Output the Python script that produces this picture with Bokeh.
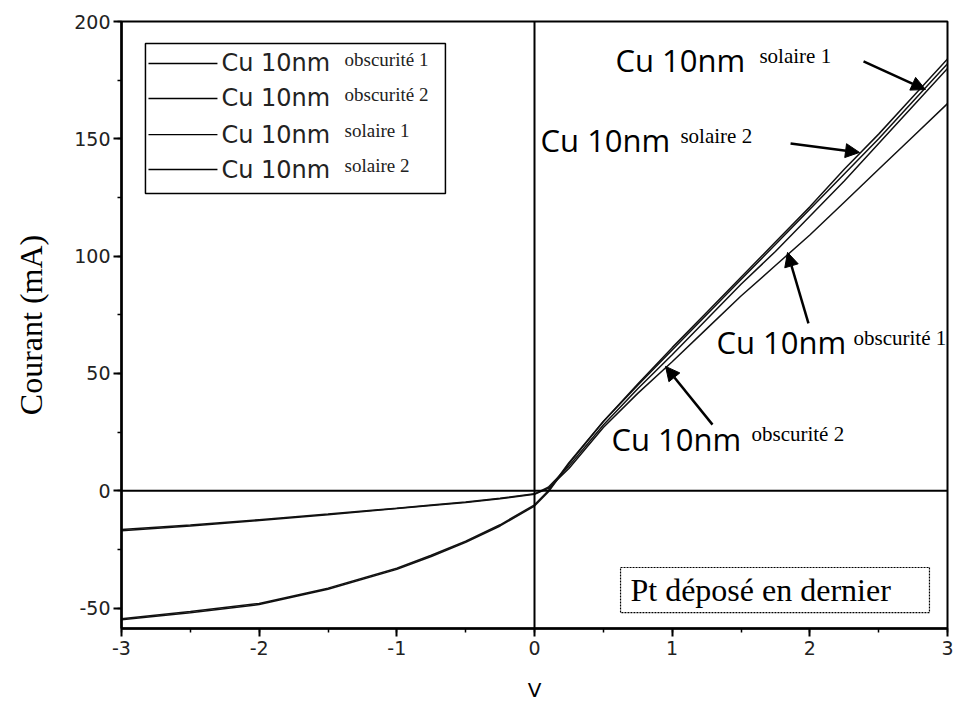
from bokeh.plotting import figure
from bokeh.models import (Arrow, NormalHead, Span, Label, SingleIntervalTicker,
                          Range1d, PrintfTickFormatter)
from bokeh.embed import file_html
from bokeh.resources import INLINE

# Tension (V) and current (mA) for the four I-V sweeps
V = [-3, -2.5, -2, -1.5, -1, -0.75, -0.5, -0.25, 0, 0.1, 0.25, 0.5, 0.75,
     1, 1.25, 1.5, 1.75, 2, 2.25, 2.5, 2.75, 3]
I_obscurite_1 = [-17, -15, -12.7, -10.2, -7.6, -6.3, -5, -3.4, -1.5, 1, 9.5,
                 27, 41.5, 55, 69, 83, 96, 109, 123, 137, 151, 165]
I_obscurite_2 = [-16.5, -14.6, -12.3, -9.9, -7.4, -6.1, -4.8, -3.2, -1.3, 1.5,
                 10.5, 28, 43.5, 58, 73, 88, 102, 117, 132, 148, 164, 180]
I_solaire_1 = [-55, -52, -48.5, -42, -33.5, -28, -22, -15, -6.5, -0.5, 11.5,
               29.5, 45.5, 61, 76, 91, 106, 121, 137, 152, 168, 184]
I_solaire_2 = [-54.5, -51.5, -48, -41.5, -33, -27.5, -21.5, -14.5, -6, 0, 12,
               29.5, 45, 60, 75, 90, 105, 120, 135, 150, 166, 182]

series = [I_obscurite_1, I_obscurite_2, I_solaire_1, I_solaire_2]
sample = "Cu 10nm"
conditions = ["obscurité 1", "obscurité 2", "solaire 1", "solaire 2"]
note = "Pt déposé en dernier"

p = figure(width=955, height=724, output_backend="svg", toolbar_location=None,
           x_range=Range1d(-3, 3), y_range=Range1d(-58.7, 200),
           min_border_left=121, min_border_right=8, min_border_top=21,
           min_border_bottom=96)
p.background_fill_color = "white"
p.border_fill_color = "white"
p.outline_line_color = "black"
p.outline_line_width = 2
p.xgrid.visible = False
p.ygrid.visible = False

p.xaxis.ticker = SingleIntervalTicker(interval=1, num_minor_ticks=2)
p.yaxis.ticker = SingleIntervalTicker(interval=50, num_minor_ticks=2)
p.xaxis.formatter = PrintfTickFormatter(format="%d")
p.yaxis.formatter = PrintfTickFormatter(format="%d")
for ax in (p.xaxis[0], p.yaxis[0]):
    ax.axis_line_width = 2.5
    ax.axis_line_color = "black"
    ax.major_tick_line_width = 2
    ax.major_tick_out = 8
    ax.major_tick_in = 0
    ax.minor_tick_line_width = 1.5
    ax.minor_tick_out = 4
    ax.minor_tick_in = 0
    ax.major_label_text_font = "DejaVu Sans"
    ax.major_label_text_font_size = "19px"
    ax.major_label_text_color = "#222222"
    ax.axis_label_text_font_style = "normal"
    ax.axis_label_text_color = "black"

p.xaxis.axis_label = "V"
p.xaxis.axis_label_text_font = "DejaVu Sans"
p.xaxis.axis_label_text_font_size = "20px"
p.xaxis.major_label_standoff = 4
p.xaxis.axis_label_standoff = 20

p.yaxis.axis_label = "Courant (mA)"
p.yaxis.axis_label_text_font = "Liberation Serif"
p.yaxis.axis_label_text_font_size = "32px"
p.yaxis.major_label_standoff = 3
p.yaxis.axis_label_standoff = 22

# zero lines
p.add_layout(Span(location=0, dimension="width", line_color="black", line_width=2))
p.add_layout(Span(location=0, dimension="height", line_color="black", line_width=2))

# I-V curves
for ys in series:
    p.line(V, ys, line_color="#111111", line_width=1.5)

# legend box drawn by hand (label with raised condition text)
p.quad(left=[-2.826], right=[-0.647], top=[190.6], bottom=[126.7],
       fill_color="white", line_color="black", line_width=1.5)
legend_rows = [182.1, 167.2, 151.8, 136.9]
for yrow, cond in zip(legend_rows, conditions):
    p.segment(x0=[-2.804], y0=[yrow], x1=[-2.303], y1=[yrow],
              line_color="black", line_width=1.4)
    p.add_layout(Label(x=-2.274, y=yrow, text=sample, text_font="DejaVu Sans",
                       text_font_size="24px", text_baseline="middle",
                       text_align="left", text_color="#222222"))
    p.add_layout(Label(x=-1.38, y=yrow + 1.8, text=cond,
                       text_font="Liberation Serif", text_font_size="19px",
                       text_baseline="middle", text_align="left",
                       text_color="#222222"))

# curve annotations: (label x, label y, raised text x, raised text y, arrow start, arrow end)
annotations = [
    ("solaire 1", 0.588, 183.8, 1.634, 185.5, (2.390, 183.0), (2.840, 171.0)),
    ("solaire 2", 0.044, 149.3, 1.060, 151.0, (1.860, 148.0), (2.361, 144.2)),
    ("obscurité 1", 1.322, 63.2, 2.317, 65.3, (1.990, 71.3), (1.838, 101.6)),
    ("obscurité 2", 0.559, 21.9, 1.576, 24.0, (1.293, 28.2), (0.952, 53.0)),
]
for cond, lx, ly, sx, sy, a0, a1 in annotations:
    p.add_layout(Label(x=lx, y=ly, text=sample, text_font="Open Sans",
                       text_font_size="31px", text_baseline="middle",
                       text_align="left", text_color="black"))
    p.add_layout(Label(x=sx, y=sy, text=cond, text_font="Liberation Serif",
                       text_font_size="21px", text_baseline="middle",
                       text_align="left", text_color="black"))
    p.add_layout(Arrow(x_start=a0[0], y_start=a0[1], x_end=a1[0], y_end=a1[1],
                       line_color="black", line_width=2.5,
                       end=NormalHead(size=14, fill_color="black",
                                      line_color="black")))

# boxed note
p.quad(left=[0.625], right=[2.869], top=[-32.7], bottom=[-51.9],
       fill_color=None, line_color="black", line_width=1.2, line_dash="2 1")
p.add_layout(Label(x=0.697, y=-42.5, text=note, text_font="Liberation Serif",
                   text_font_size="32px", text_baseline="middle",
                   text_align="left", text_color="black"))

open("out.html", "w").write(file_html(p, INLINE))
